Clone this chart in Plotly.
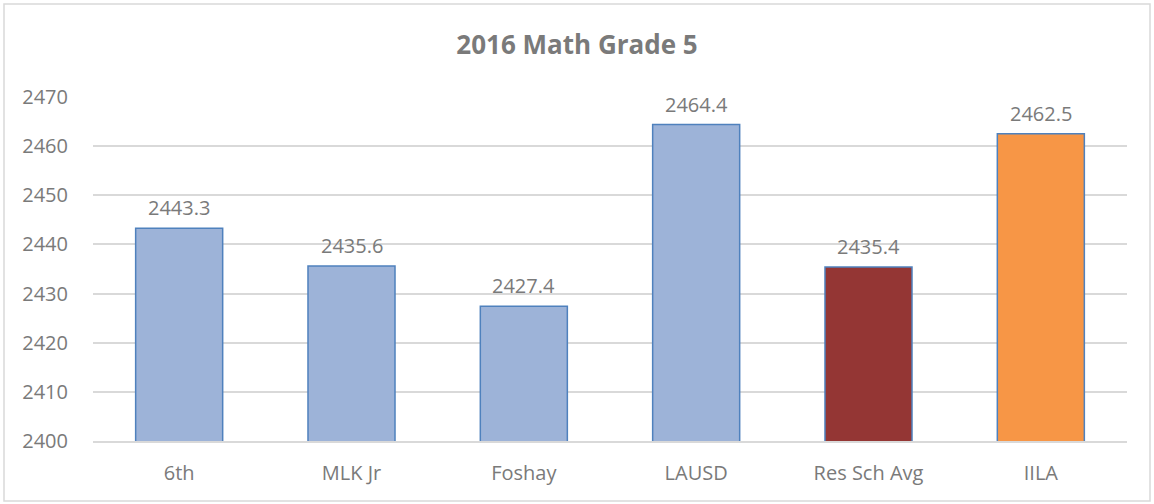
import plotly.graph_objects as go

categories = ["6th", "MLK Jr", "Foshay", "LAUSD", "Res Sch Avg", "IILA"]
values = [2443.3, 2435.6, 2427.4, 2464.4, 2435.4, 2462.5]
bar_colors = ["#9DB3D8", "#9DB3D8", "#9DB3D8", "#9DB3D8", "#943634", "#F79646"]
y_ticks = [2400, 2410, 2420, 2430, 2440, 2450, 2460, 2470]
title_text = "2016 Math Grade 5"

FONT = "'Open Sans', Lato, sans-serif"
GRAY = "#7A7A7A"

fig = go.Figure()
fig.add_trace(go.Bar(
    x=categories, y=values,
    marker=dict(color=bar_colors, line=dict(color="#4F81BD", width=1.5)),
    width=0.505,
))

for c, v in zip(categories, values):
    fig.add_annotation(x=c, y=v, text=f"{v:.1f}", showarrow=False,
                       yanchor="bottom", yshift=5,
                       font=dict(family=FONT, size=20, color=GRAY))

fig.update_layout(
    width=1154, height=504,
    margin=dict(l=93, r=27, t=97, b=63),
    paper_bgcolor="white", plot_bgcolor="white",
    showlegend=False,
    title=dict(text=f"<b>{title_text}</b>", x=0.5, xanchor="center",
               y=1 - 45 / 504, yanchor="middle", yref="container",
               font=dict(family=FONT, size=26, color=GRAY)),
    font=dict(family=FONT, color=GRAY),
    xaxis=dict(showgrid=False, showline=True, linecolor="#D9D9D9", linewidth=1.5,
               tickfont=dict(family=FONT, size=20, color=GRAY),
               ticks="", ticklabelstandoff=13),
    yaxis=dict(range=[2400, 2470], tickvals=y_ticks, showgrid=True,
               gridcolor="#D9D9D9", gridwidth=1.5, zeroline=False,
               tickfont=dict(family=FONT, size=20, color=GRAY),
               ticks="", ticklabelstandoff=24),
    shapes=[dict(type="rect", xref="paper", yref="paper",
                 x0=(4 - 93) / 1034, x1=(1150 - 93) / 1034,
                 y0=(441 - 501) / 344, y1=(441 - 4) / 344,
                 line=dict(color="#D9D9D9", width=1.5), layer="below")],
)

fig.write_html("out.html", config={"displayModeBar": False},
               post_script="document.body.style.margin='0';")
